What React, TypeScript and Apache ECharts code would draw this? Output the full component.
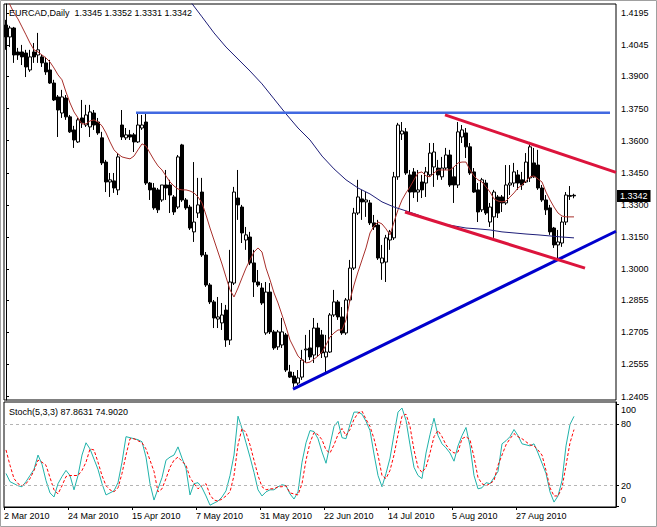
import React, { useEffect, useRef } from "react";
import * as echarts from "echarts";

// ---------- data ----------
const symbolName = "EURCAD,Daily";
const stochName = "Stoch(5,3,3)";
const firstDate = "2010-03-02";
const shiftBars = 10; // empty bars on the right (chart shift)

const dateTicks = ["2 Mar 2010", "24 Mar 2010", "15 Apr 2010", "7 May 2010", "31 May 2010", "22 Jun 2010", "14 Jul 2010", "5 Aug 2010", "27 Aug 2010"];
const priceTicks = [1.4195, 1.4045, 1.39, 1.375, 1.36, 1.345, 1.33, 1.315, 1.3, 1.2855, 1.2705, 1.2555, 1.2405];
const stochTicks = [0, 20, 80, 100];
const stochLevels = [20, 80];

const openP = [
  1.4140, 1.4084, 1.4126, 1.4014, 1.4014, 1.4009, 1.3930, 1.4014, 1.4000, 1.3991,
  1.3963, 1.3930, 1.3869, 1.3804, 1.3729, 1.3799, 1.3711, 1.3650, 1.3594, 1.3706,
  1.3673, 1.3664, 1.3729, 1.3687, 1.3613, 1.3500, 1.3407, 1.3412, 1.3370, 1.3673,
  1.3613, 1.3627, 1.3627, 1.3594, 1.3659, 1.3687, 1.3402, 1.3379, 1.3370, 1.3323,
  1.3393, 1.3393, 1.3337, 1.3290, 1.3580, 1.3323, 1.3290, 1.3174, 1.3262, 1.3360,
  1.3066, 1.2926, 1.2847, 1.2767, 1.2749, 1.2809, 1.2669, 1.2935, 1.3332, 1.3290,
  1.3136, 1.3150, 1.3029, 1.2940, 1.2912, 1.2702, 1.2893, 1.2707, 1.2637, 1.2646,
  1.2693, 1.2520, 1.2501, 1.2468, 1.2496, 1.2623, 1.2632, 1.2599, 1.2725, 1.2693,
  1.2590, 1.2613, 1.2786, 1.2847, 1.2777, 1.2702, 1.2856, 1.3005, 1.3262, 1.3328,
  1.3314, 1.3309, 1.3216, 1.3206, 1.3029, 1.3033, 1.3136, 1.3146, 1.3431, 1.3631,
  1.3641, 1.3440, 1.3454, 1.3360, 1.3407, 1.3402, 1.3440, 1.3477, 1.3472, 1.3431,
  1.3472, 1.3533, 1.3431, 1.3393, 1.3617, 1.3636, 1.3571, 1.3454, 1.3370, 1.3277,
  1.3402, 1.3220, 1.3244, 1.3337, 1.3337, 1.3309, 1.3393, 1.3402, 1.3440, 1.3417,
  1.3407, 1.3426, 1.3496, 1.3486, 1.3379, 1.3323, 1.3286, 1.3192, 1.3113, 1.3122,
  1.3220, 1.3344, 1.3345,
];
const highP = [
  1.4164, 1.4136, 1.4131, 1.4033, 1.4047, 1.4024, 1.4024, 1.4056, 1.4103, 1.4000,
  1.3991, 1.3977, 1.3884, 1.3813, 1.3837, 1.3813, 1.3720, 1.3669, 1.3706, 1.3790,
  1.3767, 1.3767, 1.3743, 1.3706, 1.3641, 1.3510, 1.3449, 1.3449, 1.3542, 1.3743,
  1.3659, 1.3650, 1.3636, 1.3729, 1.3720, 1.3729, 1.3407, 1.3402, 1.3379, 1.3393,
  1.3463, 1.3417, 1.3346, 1.3533, 1.3585, 1.3332, 1.3300, 1.3500, 1.3426, 1.3426,
  1.3080, 1.2935, 1.2856, 1.2870, 1.2842, 1.2833, 1.3090, 1.3384, 1.3463, 1.3300,
  1.3197, 1.3174, 1.3090, 1.2996, 1.2935, 1.2940, 1.2935, 1.2716, 1.2716, 1.2772,
  1.2702, 1.2553, 1.2520, 1.2529, 1.2623, 1.2693, 1.2716, 1.2772, 1.2749, 1.2716,
  1.2693, 1.2795, 1.2903, 1.2856, 1.2823, 1.2865, 1.3043, 1.3286, 1.3417, 1.3370,
  1.3360, 1.3323, 1.3253, 1.3230, 1.3113, 1.3160, 1.3183, 1.3454, 1.3683, 1.3687,
  1.3659, 1.3463, 1.3472, 1.3463, 1.3440, 1.3477, 1.3589, 1.3589, 1.3510, 1.3524,
  1.3566, 1.3557, 1.3477, 1.3687, 1.3673, 1.3659, 1.3589, 1.3472, 1.3402, 1.3426,
  1.3417, 1.3309, 1.3370, 1.3346, 1.3346, 1.3486, 1.3486, 1.3496, 1.3463, 1.3454,
  1.3542, 1.3594, 1.3566, 1.3557, 1.3393, 1.3346, 1.3300, 1.3197, 1.3183, 1.3244,
  1.3360, 1.3388, 1.3352,
];
const lowP = [
  1.4024, 1.4037, 1.3963, 1.3977, 1.3953, 1.3897, 1.3921, 1.3963, 1.3963, 1.3944,
  1.3907, 1.3865, 1.3785, 1.3617, 1.3706, 1.3697, 1.3636, 1.3566, 1.3589, 1.3659,
  1.3664, 1.3617, 1.3650, 1.3627, 1.3486, 1.3360, 1.3337, 1.3356, 1.3346, 1.3603,
  1.3603, 1.3603, 1.3547, 1.3589, 1.3650, 1.3393, 1.3323, 1.3277, 1.3262, 1.3314,
  1.3323, 1.3262, 1.3253, 1.3281, 1.3314, 1.3277, 1.3183, 1.3127, 1.3239, 1.3057,
  1.2917, 1.2837, 1.2725, 1.2725, 1.2716, 1.2637, 1.2646, 1.2926, 1.3230, 1.3122,
  1.3090, 1.3019, 1.2870, 1.2917, 1.2833, 1.2693, 1.2697, 1.2623, 1.2623, 1.2632,
  1.2520, 1.2492, 1.2450, 1.2459, 1.2483, 1.2562, 1.2576, 1.2562, 1.2590, 1.2585,
  1.2520, 1.2609, 1.2777, 1.2763, 1.2693, 1.2693, 1.2842, 1.2996, 1.3253, 1.3230,
  1.3244, 1.3206, 1.3183, 1.3043, 1.2950, 1.2940, 1.3090, 1.3136, 1.3417, 1.3603,
  1.3440, 1.3267, 1.3332, 1.3314, 1.3332, 1.3337, 1.3431, 1.3384, 1.3417, 1.3417,
  1.3463, 1.3384, 1.3309, 1.3379, 1.3589, 1.3519, 1.3440, 1.3356, 1.3220, 1.3267,
  1.3253, 1.3197, 1.3146, 1.3239, 1.3267, 1.3300, 1.3346, 1.3384, 1.3370, 1.3370,
  1.3402, 1.3407, 1.3426, 1.3370, 1.3314, 1.3253, 1.3160, 1.3099, 1.3043, 1.3104,
  1.3206, 1.3323, 1.3331,
];
const closeP = [
  1.4084, 1.4126, 1.4000, 1.4000, 1.3991, 1.3944, 1.3991, 1.3991, 1.4024, 1.3963,
  1.3921, 1.3869, 1.3790, 1.3743, 1.3804, 1.3711, 1.3641, 1.3603, 1.3697, 1.3683,
  1.3720, 1.3734, 1.3673, 1.3636, 1.3496, 1.3407, 1.3417, 1.3379, 1.3524, 1.3617,
  1.3627, 1.3617, 1.3594, 1.3673, 1.3673, 1.3402, 1.3370, 1.3286, 1.3277, 1.3393,
  1.3379, 1.3346, 1.3267, 1.3524, 1.3323, 1.3286, 1.3192, 1.3220, 1.3300, 1.3066,
  1.2926, 1.2847, 1.2772, 1.2777, 1.2786, 1.2669, 1.2940, 1.3360, 1.3300, 1.3169,
  1.3160, 1.3029, 1.2940, 1.2926, 1.2842, 1.2893, 1.2707, 1.2632, 1.2707, 1.2707,
  1.2529, 1.2496, 1.2468, 1.2492, 1.2576, 1.2627, 1.2590, 1.2725, 1.2637, 1.2609,
  1.2613, 1.2786, 1.2847, 1.2777, 1.2702, 1.2856, 1.3005, 1.3262, 1.3337, 1.3314,
  1.3323, 1.3216, 1.3197, 1.3052, 1.3052, 1.3146, 1.3174, 1.3431, 1.3673, 1.3645,
  1.3449, 1.3360, 1.3360, 1.3370, 1.3370, 1.3454, 1.3542, 1.3547, 1.3440, 1.3472,
  1.3533, 1.3393, 1.3393, 1.3641, 1.3650, 1.3571, 1.3449, 1.3360, 1.3267, 1.3417,
  1.3262, 1.3290, 1.3360, 1.3262, 1.3309, 1.3393, 1.3402, 1.3454, 1.3402, 1.3393,
  1.3500, 1.3571, 1.3431, 1.3379, 1.3323, 1.3277, 1.3174, 1.3113, 1.3127, 1.3220,
  1.3346, 1.3340, 1.3342,
];

// fast moving average (red), one value per bar
const maFast = [
  1.4271, 1.4234, 1.4196, 1.4168, 1.4131, 1.4094, 1.4056, 1.4024, 1.4014, 1.4000,
  1.3986, 1.3967, 1.3939, 1.3907, 1.3884, 1.3827, 1.3776, 1.3734, 1.3706, 1.3678,
  1.3678, 1.3692, 1.3697, 1.3687, 1.3669, 1.3636, 1.3594, 1.3557, 1.3538, 1.3524,
  1.3519, 1.3515, 1.3528, 1.3557, 1.3585, 1.3575, 1.3542, 1.3510, 1.3482, 1.3463,
  1.3435, 1.3407, 1.3388, 1.3374, 1.3370, 1.3370, 1.3365, 1.3356, 1.3337, 1.3309,
  1.3253, 1.3192, 1.3136, 1.3080, 1.3024, 1.2963, 1.2903, 1.2870, 1.2912, 1.2959,
  1.3005, 1.3043, 1.3080, 1.3099, 1.3080, 1.3005, 1.2950, 1.2889, 1.2842, 1.2786,
  1.2730, 1.2669, 1.2632, 1.2594, 1.2576, 1.2562, 1.2566, 1.2580, 1.2594, 1.2613,
  1.2646, 1.2683, 1.2702, 1.2716, 1.2716, 1.2763, 1.2856, 1.2926, 1.2987, 1.3043,
  1.3099, 1.3169, 1.3202, 1.3220, 1.3211, 1.3188, 1.3160, 1.3220, 1.3277, 1.3323,
  1.3356, 1.3384, 1.3417, 1.3449, 1.3454, 1.3435, 1.3431, 1.3449, 1.3463, 1.3463,
  1.3463, 1.3463, 1.3477, 1.3496, 1.3500, 1.3500, 1.3463, 1.3435, 1.3417, 1.3407,
  1.3384, 1.3360, 1.3328, 1.3318, 1.3314, 1.3318, 1.3337, 1.3356, 1.3379, 1.3393,
  1.3412, 1.3431, 1.3435, 1.3421, 1.3407, 1.3360, 1.3323, 1.3290, 1.3262, 1.3248,
  1.3244, 1.3244, 1.3244,
];

// slow moving average (navy), read at every third bar
const maSlowBar = [46, 49, 52, 55, 58, 61, 64, 67, 70, 73, 76, 79, 82, 85, 88, 91, 94, 97, 100, 103, 106, 109, 112, 115, 118, 121, 124, 127, 130, 133, 136, 139, 142];
const maSlowVal = [
  1.4252, 1.4178, 1.4103, 1.4037, 1.3981, 1.3925, 1.3865, 1.3795, 1.3725, 1.3659,
  1.3603, 1.3528, 1.3468, 1.3417, 1.3379, 1.3351, 1.3314, 1.3290, 1.3272, 1.3253,
  1.3230, 1.3211, 1.3202, 1.3192, 1.3188, 1.3183, 1.3174, 1.3169, 1.3164, 1.3160,
  1.3155, 1.3150, 1.3146,
];

// stochastic %K and %D, one value per bar
const stochK = [
  32, 24, 22, 20, 19, 24, 30, 36, 50, 41, 25, 13, 9, 22, 29, 35, 30, 16, 30, 50,
  62, 56, 46, 36, 22, 11, 13, 15, 23, 43, 68, 67, 66, 65, 63, 48, 22, 6, 17, 28,
  45, 48, 50, 58, 47, 37, 11, 22, 23, 18, 10, 1, 3, 5, 9, 15, 30, 50, 88, 76,
  62, 48, 33, 16, 10, 14, 16, 16, 19, 21, 20, 12, 7, 14, 43, 62, 74, 73, 66, 53,
  42, 60, 78, 83, 67, 66, 80, 92, 92, 90, 83, 74, 51, 30, 19, 32, 47, 70, 92, 96,
  84, 60, 38, 30, 27, 52, 70, 86, 69, 61, 57, 52, 44, 59, 69, 77, 59, 30, 17, 18,
  23, 22, 28, 34, 61, 64, 68, 75, 69, 61, 60, 59, 61, 52, 42, 32, 14, 4, 10, 25,
  59, 80, 87.8631,
];
const stochD = [
  55, 40, 27, 22, 20, 22, 27, 35, 45, 43, 40, 28, 16, 12, 20, 29, 30, 30, 30, 35,
  43, 56, 55, 43, 30, 20, 16, 14, 18, 32, 50, 66, 66, 64, 62, 56, 45, 34, 14, 17,
  27, 38, 45, 48, 44, 40, 28, 22, 17, 20, 22, 11, 6, 5, 7, 10, 14, 30, 60, 76,
  72, 60, 45, 30, 19, 16, 17, 17, 19, 19, 20, 13, 12, 11, 22, 45, 62, 72, 70, 65,
  55, 52, 60, 70, 76, 69, 75, 85, 91, 93, 85, 78, 66, 50, 30, 27, 35, 50, 70, 88,
  90, 78, 55, 38, 33, 38, 52, 68, 74, 68, 60, 55, 52, 53, 66, 68, 65, 48, 28, 22,
  20, 22, 25, 40, 50, 60, 66, 71, 68, 66, 63, 60, 59, 55, 50, 35, 18, 10, 10, 18,
  40, 62, 74.902,
];

// trend lines: [bar position, price] end points
const resistanceBars = [32.5, 151];
const resistancePrices = [1.373, 1.373];
const supportBars = [71.75, 152.5];
const supportPrices = [1.244, 1.3177];
const channelTopBars = [109.75, 152.5];
const channelTopPrices = [1.372, 1.3452];
const channelLowBars = [99.75, 144.75];
const channelLowPrices = [1.3267, 1.3005];

// ---------- helpers ----------
const MONTHS = ["Jan", "Feb", "Mar", "Apr", "May", "Jun", "Jul", "Aug", "Sep", "Oct", "Nov", "Dec"];
function weekdayDates(start: string, n: number): string[] {
  const out: string[] = [];
  const d = new Date(start + "T00:00:00Z");
  while (out.length < n) {
    const wd = d.getUTCDay();
    if (wd !== 0 && wd !== 6) out.push(`${d.getUTCDate()} ${MONTHS[d.getUTCMonth()]} ${d.getUTCFullYear()}`);
    d.setUTCDate(d.getUTCDate() + 1);
  }
  return out;
}

const FONT = '"Liberation Sans", Arial, sans-serif';
const PRICE_MIN = 1.2389;
const PRICE_MAX = 1.4238;

export default function App() {
  const ref = useRef<HTMLDivElement>(null);

  useEffect(() => {
    if (!ref.current) return;
    const chart = echarts.init(ref.current, undefined, { renderer: "svg" });

    const n = openP.length;
    const dates = weekdayDates(firstDate, n);
    const cats = dates.concat(Array(shiftBars).fill(""));
    const tickCats = dates.concat(Array(shiftBars + 1).fill(""));
    const totalBars = cats.length;

    const candles = openP.map((o, i) => [o, closeP[i], lowP[i], highP[i]]);
    const lastI = n - 1;
    const lastClose = closeP[lastI];
    const header = `${symbolName}\u00a0\u00a0${openP[lastI].toFixed(4)} ${highP[lastI].toFixed(4)} ${lowP[lastI].toFixed(4)} ${lastClose.toFixed(4)}`;
    const stochHeader = `${stochName} ${stochK[lastI].toFixed(4)} ${stochD[lastI].toFixed(4)}`;

    const pair = (xs: number[], ys: number[]) => xs.map((x, i) => [x, ys[i]]);
    const trend = (xs: number[], ys: number[], color: string, width: number) => ({
      type: "line",
      xAxisIndex: 1,
      yAxisIndex: 0,
      data: pair(xs, ys),
      symbol: "none",
      silent: true,
      clip: true,
      lineStyle: { color, width },
      z: 5,
    });

    const showTick = (_i: number, v: string) => dateTicks.includes(v);

    chart.setOption({
      animation: false,
      backgroundColor: "#fff",
      textStyle: { fontFamily: FONT },
      grid: [
        { left: 4, top: 4, width: 612, height: 396, show: true, borderColor: "#000", borderWidth: 1, backgroundColor: "#fff" },
        { left: 4, top: 402, width: 612, height: 105, show: true, borderColor: "#000", borderWidth: 1, backgroundColor: "#fff" },
      ],
      xAxis: [
        { type: "category", gridIndex: 0, data: cats, boundaryGap: true, show: false },
        { type: "value", gridIndex: 0, min: -0.5, max: totalBars - 0.5, show: false },
        { type: "category", gridIndex: 1, data: cats, boundaryGap: true, show: false },
        {
          type: "category",
          gridIndex: 1,
          data: tickCats,
          boundaryGap: false,
          position: "bottom",
          axisLine: { show: true, lineStyle: { color: "#000" } },
          axisTick: { show: true, interval: showTick, length: 3, lineStyle: { color: "#000" } },
          axisLabel: { interval: showTick, align: "left", margin: 4, color: "#000", fontSize: 9, fontFamily: FONT },
          splitLine: { show: false },
        },
      ],
      yAxis: [
        {
          type: "value",
          gridIndex: 0,
          position: "right",
          min: PRICE_MIN,
          max: PRICE_MAX,
          splitLine: { show: false },
          axisLine: { show: true, lineStyle: { color: "#000" } },
          axisTick: { show: true, length: 3, customValues: priceTicks, lineStyle: { color: "#000" } },
          axisLabel: {
            customValues: priceTicks,
            formatter: (v: number) => v.toFixed(4),
            color: "#000",
            fontSize: 9,
            fontFamily: FONT,
            margin: 5,
          },
        },
        {
          type: "value",
          gridIndex: 1,
          position: "right",
          min: -0.8,
          max: 101.9,
          splitLine: { show: false },
          axisLine: { show: true, lineStyle: { color: "#000" } },
          axisTick: { show: true, length: 3, customValues: stochTicks, lineStyle: { color: "#000" } },
          axisLabel: {
            customValues: stochTicks,
            formatter: (v: number) => (v === 100 ? `{t|${v}}` : v === 0 ? `{b|${v}}` : `${v}`),
            rich: {
              t: { padding: [12, 0, 0, 0], fontSize: 9, fontFamily: FONT, color: "#000" },
              b: { padding: [0, 0, 12, 0], fontSize: 9, fontFamily: FONT, color: "#000" },
            },
            color: "#000",
            fontSize: 9,
            fontFamily: FONT,
            margin: 5,
          },
        },
        {
          // current price tag on the price scale
          type: "value",
          gridIndex: 0,
          position: "right",
          min: PRICE_MIN,
          max: PRICE_MAX,
          z: 10,
          splitLine: { show: false },
          axisLine: { show: false },
          axisTick: { show: false },
          axisLabel: {
            customValues: [lastClose],
            formatter: (v: number) => v.toFixed(4),
            color: "#fff",
            backgroundColor: "#000",
            padding: [2, 3, 1, 3],
            fontSize: 9,
            fontFamily: FONT,
            margin: 1,
          },
        },
      ],
      series: [
        {
          type: "candlestick",
          xAxisIndex: 0,
          yAxisIndex: 0,
          data: candles,
          barWidth: 3,
          itemStyle: { color: "#fff", color0: "#000", borderColor: "#000", borderColor0: "#000", borderWidth: 1 },
          z: 3,
        },
        {
          type: "line",
          xAxisIndex: 0,
          yAxisIndex: 0,
          data: maFast,
          symbol: "none",
          silent: true,
          clip: true,
          lineStyle: { color: "#a8302c", width: 1 },
          z: 4,
        },
        {
          type: "line",
          xAxisIndex: 1,
          yAxisIndex: 0,
          data: pair(maSlowBar, maSlowVal),
          symbol: "none",
          silent: true,
          clip: true,
          lineStyle: { color: "#1e1e78", width: 1 },
          z: 4,
        },
        trend(resistanceBars, resistancePrices, "#4169e1", 2.5),
        trend(supportBars, supportPrices, "#0000cd", 3),
        trend(channelTopBars, channelTopPrices, "#dc143c", 3),
        trend(channelLowBars, channelLowPrices, "#dc143c", 3),
        {
          type: "line",
          xAxisIndex: 2,
          yAxisIndex: 1,
          data: stochK,
          symbol: "none",
          silent: true,
          lineStyle: { color: "#20b2aa", width: 1 },
          z: 4,
          markLine: {
            silent: true,
            symbol: ["none", "none"],
            label: { show: false },
            lineStyle: { color: "#b4b4b4", type: [3, 3], width: 1 },
            data: stochLevels.map((v) => ({ yAxis: v })),
          },
        },
        {
          type: "line",
          xAxisIndex: 2,
          yAxisIndex: 1,
          data: stochD,
          symbol: "none",
          silent: true,
          lineStyle: { color: "#ff0000", width: 1, type: [3, 2] },
          z: 4,
        },
      ],
      graphic: [
        {
          type: "rect",
          silent: true,
          z: 20,
          shape: { x: 0.5, y: 0.5, width: 656, height: 526 },
          style: { fill: "none", stroke: "#a0a0a0", lineWidth: 1 },
        },
        {
          type: "text",
          x: 9,
          y: 13,
          z: 10,
          style: { text: header, fill: "#000", font: `9px ${FONT}`, verticalAlign: "middle" },
        },
        {
          type: "text",
          x: 9,
          y: 412,
          z: 10,
          style: { text: stochHeader, fill: "#000", font: `9px ${FONT}`, verticalAlign: "middle" },
        },
      ],
    });

    return () => chart.dispose();
  }, []);

  return (
    <div
      ref={ref}
      style={{ position: "fixed", left: 0, top: 0, width: 657, height: 527, background: "#fff" }}
    />
  );
}
